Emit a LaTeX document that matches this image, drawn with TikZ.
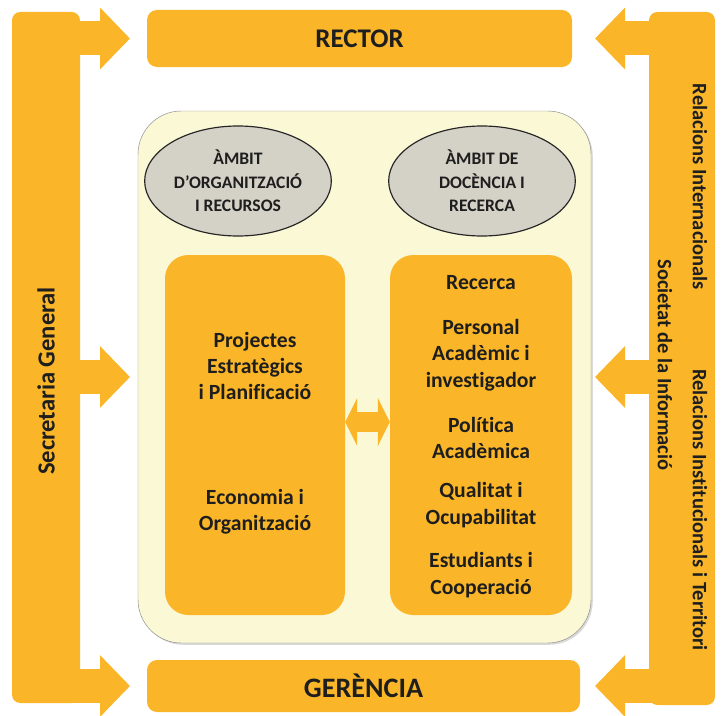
\documentclass[tikz,border=0pt]{standalone}
\usepackage{fontspec}
\setmainfont{Carlito}[Ligatures=NoCommon]
\usetikzlibrary{shapes.geometric,arrows.meta,shadows}
\definecolor{uorange}{RGB}{250,182,40}
\definecolor{upale}{RGB}{251,248,214}
\definecolor{ugrey}{RGB}{212,209,198}
\definecolor{utext}{RGB}{30,30,30}
\tikzset{
  bar/.style={fill=uorange, rounded corners=0.25cm, minimum width=2.04cm},
  headbox/.style={fill=uorange, rounded corners=0.3cm, text=utext, font=\fontsize{23}{27}\selectfont\bfseries},
  ambit/.style={ellipse, draw=black!85, line width=1pt, fill=ugrey, text=utext, align=center, inner sep=0pt,
    minimum width=5.6cm, minimum height=3.3cm, font=\fontsize{15}{20}\selectfont\bfseries},
  unitbox/.style={fill=uorange, rounded corners=0.7cm, minimum width=5.4cm, minimum height=10.8cm},
  unittext/.style={text=utext, align=center, font=\fontsize{18.5}{22.5}\selectfont\bfseries},
  sidetext/.style={text=utext, font=\fontsize{17.5}{20}\selectfont\bfseries},
  blockarrow/.style={uorange, line width=1.02cm, -{Triangle[width=1.8cm,length=0.9cm]}},
  twoway/.style={uorange, line width=0.6cm, {Triangle[width=1.44cm,length=0.36cm]}-{Triangle[width=1.44cm,length=0.36cm]}},
}
\begin{document}
\begin{tikzpicture}
  \useasboundingbox (0,0) rectangle (21.69,-21.45);
  % side bars
  \node[bar, minimum height=20.73cm] (secbar) at (1.38,-10.725) {};
  \node[bar, minimum width=1.98cm, minimum height=20.79cm] (relbar) at (20.46,-10.755) {};
  % top and bottom
  \node[headbox, minimum width=12.75cm, minimum height=1.71cm] (rector) at (10.785,-1.155) {RECTOR};
  \node[headbox, minimum width=12.99cm, minimum height=1.56cm, font=\fontsize{24}{28}\selectfont\bfseries] (gerencia) at (10.905,-20.58) {GERÈNCIA};
  % the two ambits
  \node[draw=black!45, fill=upale, rounded corners=1.3cm, minimum width=13.59cm, minimum height=15.96cm,
    drop shadow={shadow xshift=1.5pt, shadow yshift=-1.5pt, opacity=0.3}] (ambits) at (10.935,-11.31) {};
  \node[ambit] (orgamb) at (7.14,-5.43) {ÀMBIT\\D’ORGANITZACIÓ\\I RECURSOS};
  \node[ambit] (docamb) at (14.46,-5.43) {ÀMBIT DE\\DOCÈNCIA I\\RECERCA};
  \node[unitbox] (orgbox) at (7.65,-13.05) {};
  \node[unitbox, minimum width=5.46cm] (docbox) at (14.43,-13.05) {};
  \node[unittext] (projectes) at (7.65,-10.98) {Projectes\\Estratègics\\i Planificació};
  \node[unittext] (economia) at (7.65,-15.36) {Economia i\\Organització};
  \node[unittext] (recerca) at (14.43,-8.49) {Recerca};
  \node[unittext] (personal) at (14.43,-10.65) {Personal\\Acadèmic i\\investigador};
  \node[unittext] (politica) at (14.43,-13.14) {Política\\Acadèmica};
  \node[unittext] (qualitat) at (14.43,-15.15) {Qualitat i\\Ocupabilitat};
  \node[unittext] (estudiants) at (14.43,-17.25) {Estudiants i\\Cooperació};
  \draw[twoway] ([yshift=0.39cm]orgbox.east) -- ([yshift=0.39cm]docbox.west);
  % arrows from the bars
  \coordinate (tipL) at (3.9,0);
  \coordinate (tipR) at (17.85,0);
  \draw[blockarrow] (secbar |- rector) -- (tipL |- rector);
  \draw[blockarrow] (secbar |- ambits) -- (tipL |- ambits);
  \draw[blockarrow] (secbar |- gerencia) -- (tipL |- gerencia);
  \draw[blockarrow] (relbar |- rector) -- (tipR |- rector);
  \draw[blockarrow] (relbar |- ambits) -- (tipR |- ambits);
  \draw[blockarrow] (relbar |- gerencia) -- (tipR |- gerencia);
  % bar labels
  \node[sidetext, rotate=90, font=\fontsize{21}{24}\selectfont\bfseries] (secretaria) at (1.38,-11.43) {Secretaria General};
  \node[sidetext, rotate=-90] (relint) at (21.0,-5.61) {Relacions Internacionals};
  \node[sidetext, rotate=-90] (societat) at (19.95,-10.95) {Societat de la Informació};
  \node[sidetext, rotate=-90] (relinst) at (21.0,-15.3) {Relacions Institucionals i Territori};
\end{tikzpicture}
\end{document}
